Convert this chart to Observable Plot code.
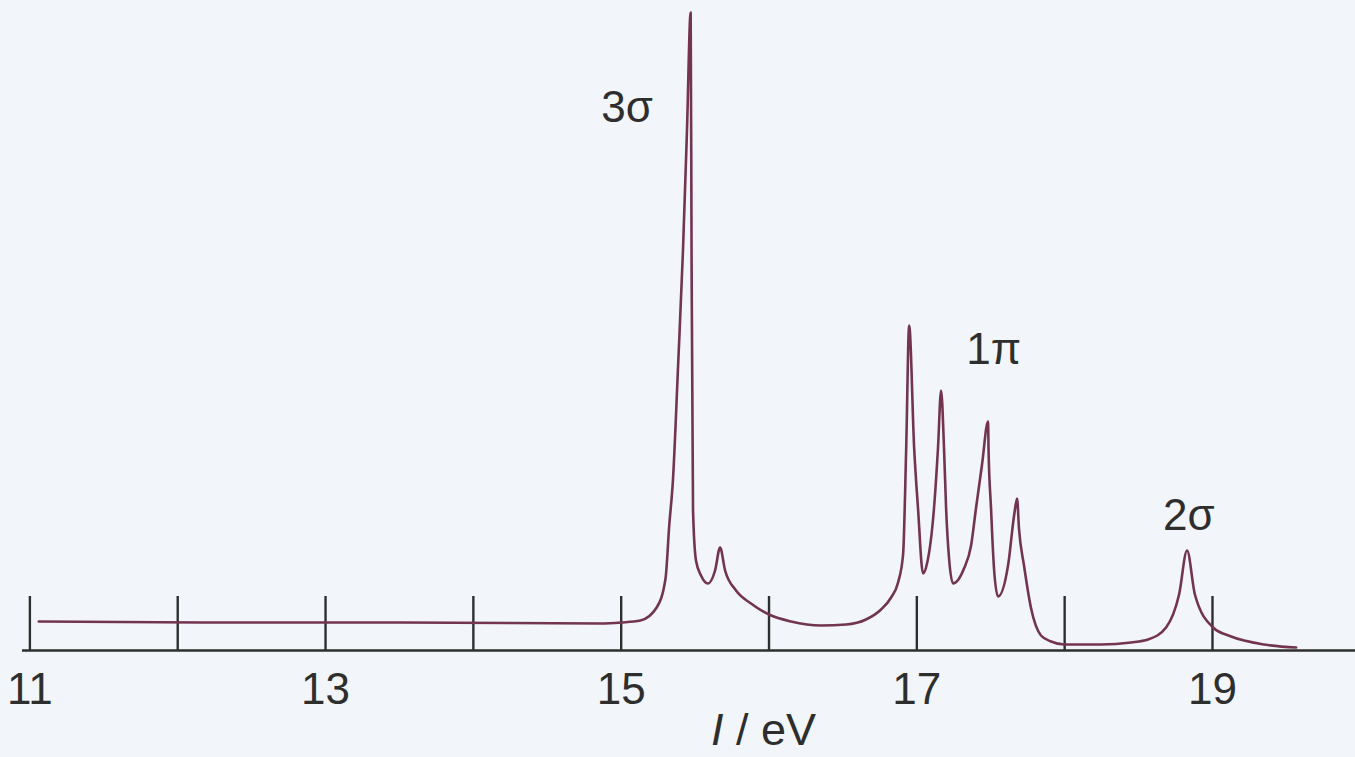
<!DOCTYPE html>
<html><head><meta charset="utf-8">
<script src="https://cdn.jsdelivr.net/npm/d3@7"></script>
<script src="https://cdn.jsdelivr.net/npm/@observablehq/plot@0.6"></script>
<style>html,body{margin:0;padding:0;background:#f2f6fa;overflow:hidden}</style>
</head><body><div id="chart"></div>
<script>
// Photoelectron spectrum (ionization energy in eV, relative intensity)
const energy = [11.06,12.16,13.51,14.86,15.00,15.13,15.24,15.30,15.325,15.35,15.385,15.418,15.445,15.47,15.476,15.486,15.506,15.54,15.587,15.635,15.669,15.703,15.777,15.878,16.00,16.149,16.352,16.521,16.656,16.758,16.826,16.873,16.907,16.928,16.948,16.982,17.008,17.042,17.069,17.116,17.143,17.164,17.184,17.198,17.218,17.245,17.319,17.367,17.40,17.441,17.482,17.485,17.502,17.522,17.549,17.617,17.658,17.678,17.691,17.725,17.773,17.840,17.908,17.996,18.246,18.449,18.564,18.686,18.774,18.828,18.881,19.004,19.126,19.349,19.566];
const intensity = [29,28,28,27,28,30,43,72,125,170,285,400,520,638,400,140,90,75,67,80,103,80,60,47,36,29,25,26,31,41,53,68,96,202,325,202,142,77,87,142,202,260,202,142,92,67,82,105,142,186,229,202,142,82,54,85,135,152,122,85,42,15,9,6,6,8,11,23,56,100,56,23,14,6,3];
const tickValues = [11,12,13,14,15,16,17,18,19];
const tickLabels = [11,13,15,17,19];
const peakNames = ["3σ","1π","2σ"];
const peakEnergy = [15.04,17.52,18.84];
const peakLevel = [529,287,121];
const axisTitle = "I / eV";
const axisTitleEnergy = 15.963;
const axisTitleLevel = -94;

const spectrum = energy.map((e,i)=>({energy:e, intensity:intensity[i]}));
const peaks = peakNames.map((n,i)=>({name:n, e:peakEnergy[i], i:peakLevel[i]}));
const tickHeight = 54;
const ink = "#2e2e2e";

const chart = Plot.plot({
  width:1355, height:757,
  marginLeft:22, marginRight:0, marginTop:12, marginBottom:107,
  x:{domain:[10.95,19.9675]},
  y:{domain:[0,638], axis:null},
  style:{background:"transparent", fontFamily:"'Liberation Sans', Arial, sans-serif", fontSize:"44px", color:ink},
  marks:[
    Plot.ruleY([0], {stroke:ink, strokeWidth:2.4}),
    Plot.ruleX(tickValues, {x:d=>d, y1:0, y2:tickHeight, stroke:ink, strokeWidth:2.4}),
    Plot.line(spectrum, {x:"energy", y:"intensity", stroke:"#72344e", strokeWidth:2.6, curve:"monotone-x"}),
    Plot.axisX({ticks:tickLabels, tickSize:0, tickPadding:22, fontSize:44, label:null, tickFormat:d=>String(d)}),
    Plot.text(peaks, {x:"e", y:"i", text:"name", fontSize:44, textAnchor:"middle", lineAnchor:"bottom", fill:ink}),
    Plot.text([axisTitle], {x:()=>axisTitleEnergy, y:()=>axisTitleLevel, text:d=>d, fontSize:45, textAnchor:"middle", lineAnchor:"bottom", fill:ink})
  ]
});
document.getElementById("chart").appendChild(chart);
d3.select(chart).selectAll("text").filter(function(){return this.textContent===axisTitle;})
  .html('<tspan font-style="italic">I</tspan> / eV');
</script>
</body></html>
